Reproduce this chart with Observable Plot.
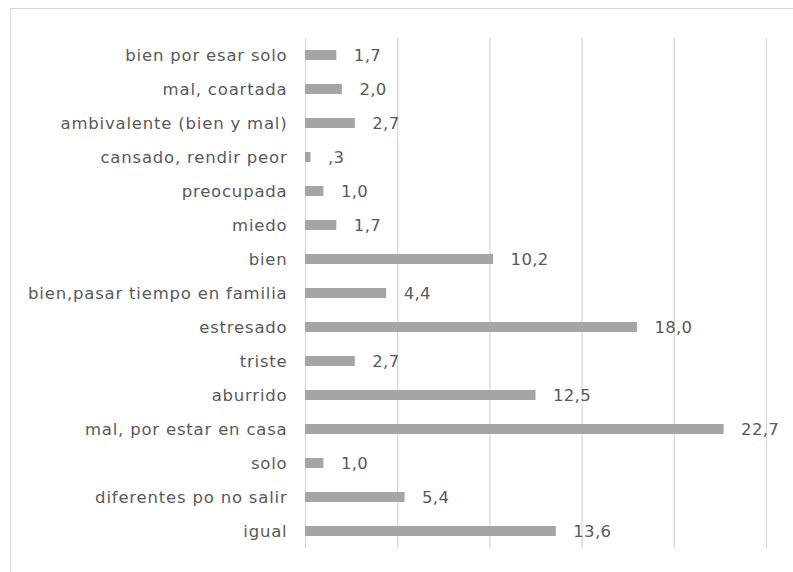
<!DOCTYPE html>
<html><head><meta charset="utf-8">
<script src="https://cdn.jsdelivr.net/npm/d3@7"></script>
<script src="https://cdn.jsdelivr.net/npm/@observablehq/plot@0.6"></script>
<style>
html,body{margin:0;padding:0;background:#fff;overflow:hidden;}
#wrap{position:relative;width:793px;height:572px;}
#frame{position:absolute;left:10px;top:8px;width:800px;height:600px;border:1px solid #D9D9D9;box-sizing:border-box;}
#chart{position:absolute;left:0;top:0;}
#chart g[aria-label="y-axis tick label"] text{letter-spacing:0.8px;}
#chart g[aria-label="text"] text{letter-spacing:0.3px;}
</style></head>
<body>
<div id="wrap"><div id="frame"></div><div id="chart"></div></div>
<script>
const categories = ["bien por esar solo","mal, coartada","ambivalente (bien y mal)","cansado, rendir peor","preocupada","miedo","bien","bien,pasar tiempo en familia","estresado","triste","aburrido","mal, por estar en casa","solo","diferentes po no salir","igual"];
const values = [1.7,2.0,2.7,0.3,1.0,1.7,10.2,4.4,18.0,2.7,12.5,22.7,1.0,5.4,13.6];
const gridTicks = [0,5,10,15,20,25];

const data = categories.map((c,i)=>({cat:c, v:values[i]}));
const fmt = v => v.toFixed(1).replace(".", ",").replace(/^0,/, ",");
const font = "DejaVu Sans";

const chart = Plot.plot({
  width: 793, height: 572,
  marginLeft: 305, marginRight: 27, marginTop: 38, marginBottom: 24,
  style: {fontFamily: font, fontSize: "16.5px", color: "#595959", background: "transparent"},
  x: {domain: [0,25], axis: null},
  y: {domain: categories, paddingInner: 0.7, paddingOuter: 0.35, label: null},
  marks: [
    Plot.ruleX(gridTicks, {stroke: "#D9D9D9", strokeWidth: 1.3}),
    Plot.barX(data, {x: "v", y: "cat", fill: "#A5A5A5"}),
    Plot.text(data, {x: "v", y: "cat", text: d => fmt(d.v), textAnchor: "start", dx: 17, fill: "#595959", fontSize: 16.5}),
    Plot.axisY({tickSize: 0, tickPadding: 18, fontSize: 16.5, fill: "#595959", label: null})
  ]
});
document.getElementById("chart").appendChild(chart);
</script>
</body></html>
